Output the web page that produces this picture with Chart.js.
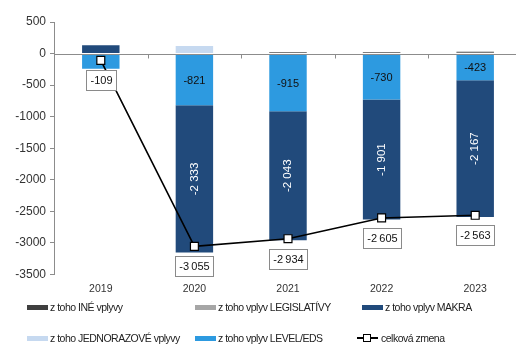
<!DOCTYPE html>
<html>
<head>
<meta charset="utf-8">
<script src="https://cdn.jsdelivr.net/npm/chart.js@4.4.1/dist/chart.umd.min.js"></script>
<style>
  html, body { margin: 0; padding: 0; background: #fff; }
  #wrap { position: relative; width: 516px; height: 345px; overflow: hidden; }
  #box { position: absolute; left: 0; top: 0; width: 530px; height: 306px; }
  #legend { position: absolute; left: 0; top: 0; width: 516px; height: 345px;
            font-family: Arial, "Liberation Sans", sans-serif; font-size: 10.5px;
            letter-spacing: -0.5px; color: #222; }
  .item { position: absolute; display: flex; align-items: center; height: 12px; white-space: nowrap; }
  .sw { width: 21px; height: 5px; margin-right: 2px; }
  .ln { position: relative; width: 21px; height: 12px; margin-right: 3px; }
  .ln::before { content: ""; position: absolute; left: 0; right: 0; top: 5px; height: 1.5px; background: #000; }
  .ln::after { content: ""; position: absolute; left: 6px; top: 2px; width: 6px; height: 6px;
               background: #fff; border: 1.2px solid #000; }
</style>
</head>
<body>
<div id="wrap">
  <div id="box"><canvas id="c"></canvas></div>
  <div id="legend"></div>
</div>
<script>
// Years on the category axis
const years = ['2019', '2020', '2021', '2022', '2023'];

// Components of the yearly change
const ineVplyvy      = [0, 0, 12, 13, 14];
const legislativy    = [0, 0, 12, 13, 13];
const makra          = [130, -2333, -2043, -1901, -2167];
const jednorazove    = [0, 120, 0, 0, 0];
const levelEds       = [-239, -821, -915, -730, -423];

// Total change (line)
const celkovaZmena   = [-109, -3055, -2934, -2605, -2563];

// Value axis range
const yMin = -3500, yMax = 500, yStep = 500;

const COLORS = {
  ine: '#3f3f3f',
  leg: '#a6a6a6',
  makra: '#214a7b',
  jedn: '#c6d9f0',
  level: '#2d9ae0'
};
const AXIS_GREY = '#8c8c8c';
const FONT = 'Arial, "Liberation Sans", sans-serif';

function fmt(v, sep) {
  const s = Math.abs(Math.round(v)).toString().replace(/\B(?=(\d{3})+(?!\d))/g, sep);
  return (v < 0 ? '-' : '') + s;
}

// Zero line across the plot with small ticks between the categories
const zeroAxis = {
  id: 'zeroAxis',
  afterDatasetsDraw(chart) {
    const { ctx, chartArea, scales } = chart;
    const y0 = Math.round(scales.y.getPixelForValue(0)) + 0.5;
    ctx.save();
    ctx.strokeStyle = AXIS_GREY;
    ctx.lineWidth = 1.2;
    ctx.beginPath();
    ctx.moveTo(chartArea.left, y0);
    ctx.lineTo(chartArea.right, y0);
    ctx.stroke();
    ctx.lineWidth = 1;
    const n = scales.x.ticks.length;
    for (let i = 0; i < n - 1; i++) {
      const xb = Math.round((scales.x.getPixelForTick(i) + scales.x.getPixelForTick(i + 1)) / 2) + 0.5;
      ctx.beginPath();
      ctx.moveTo(xb, y0);
      ctx.lineTo(xb, y0 + 4);
      ctx.stroke();
    }
    ctx.restore();
  }
};

// Value labels inside the bars and boxed labels under the line points
const valueLabels = {
  id: 'valueLabels',
  afterDatasetsDraw(chart) {
    const ctx = chart.ctx;
    chart.data.datasets.forEach((ds, di) => {
      const meta = chart.getDatasetMeta(di);
      if (!ds.labelMode) return;
      meta.data.forEach((el, i) => {
        const v = ds.data[i];
        ctx.save();
        if (ds.labelMode === 'inside' || ds.labelMode === 'rotated') {
          const h = Math.abs(el.base - el.y);
          if (h < 22) { ctx.restore(); return; }
          const cy = (el.y + el.base) / 2;
          ctx.textAlign = 'center';
          ctx.textBaseline = 'middle';
          if (ds.labelMode === 'inside') {
            ctx.font = '11px ' + FONT;
            ctx.fillStyle = '#111';
            ctx.fillText(fmt(v, '\u2009'), el.x, cy + 1);
          } else {
            ctx.font = '11.5px ' + FONT;
            ctx.fillStyle = '#fff';
            ctx.translate(el.x, cy);
            ctx.rotate(-Math.PI / 2);
            ctx.fillText(fmt(v, ' '), 0, 0);
          }
        } else if (ds.labelMode === 'box') {
          ctx.font = '11px ' + FONT;
          const t = fmt(v, '\u2009');
          const w = Math.round(ctx.measureText(t).width + 8);
          const h = 20;
          const x = Math.round(el.x - w / 2) + 0.5;
          const y = Math.round(el.y + 10) + 0.5;
          ctx.fillStyle = '#fff';
          ctx.fillRect(x, y, w, h);
          ctx.strokeStyle = '#8a8a8a';
          ctx.lineWidth = 1;
          ctx.strokeRect(x, y, w, h);
          ctx.fillStyle = '#111';
          ctx.textAlign = 'center';
          ctx.textBaseline = 'middle';
          ctx.fillText(t, x + w / 2, y + h / 2 + 0.5);
        }
        ctx.restore();
      });
    });
  }
};

const barCommon = { type: 'bar', stack: 'parts', order: 1, categoryPercentage: 1, barPercentage: 0.4, borderWidth: 0 };

const chart = new Chart(document.getElementById('c'), {
  data: {
    labels: years,
    datasets: [
      { ...barCommon, key: 'level', label: 'z toho vplyv LEVEL/EDS', data: levelEds, backgroundColor: COLORS.level, labelMode: 'inside' },
      { ...barCommon, key: 'makra', label: 'z toho vplyv MAKRA', data: makra, backgroundColor: COLORS.makra, labelMode: 'rotated' },
      { ...barCommon, key: 'jedn', label: 'z toho JEDNORAZOVÉ vplyvy', data: jednorazove, backgroundColor: COLORS.jedn },
      { ...barCommon, key: 'leg', label: 'z toho vplyv LEGISLATÍVY', data: legislativy, backgroundColor: COLORS.leg },
      { ...barCommon, key: 'ine', label: 'z toho INÉ vplyvy', data: ineVplyvy, backgroundColor: COLORS.ine },
      {
        type: 'line', key: 'total', label: 'celková zmena', data: celkovaZmena, stack: 'total', order: 0,
        borderColor: '#000', borderWidth: 1.6, tension: 0,
        pointStyle: 'rect', pointRadius: 5.6, pointBackgroundColor: '#fff',
        pointBorderColor: '#000', pointBorderWidth: 1.2, labelMode: 'box'
      }
    ]
  },
  options: {
    responsive: true,
    maintainAspectRatio: false,
    animation: false,
    layout: { padding: { top: 22, right: 8, left: 0, bottom: 3 } },
    plugins: { legend: { display: false }, tooltip: { enabled: false } },
    scales: {
      x: {
        stacked: true,
        grid: { display: false, drawTicks: false },
        border: { display: false },
        ticks: { color: '#333', font: { size: 10.5, family: FONT }, padding: 8 }
      },
      y: {
        stacked: true,
        min: yMin, max: yMax,
        ticks: {
          stepSize: yStep, color: '#333', padding: 4,
          font: { size: 12, family: FONT },
          callback: (v) => String(v)
        },
        grid: { drawOnChartArea: false, tickLength: 4, color: AXIS_GREY },
        border: { color: AXIS_GREY },
        afterFit(scale) { scale.width = 54; }
      }
    }
  },
  plugins: [zeroAxis, valueLabels]
});

// Legend built from the chart's datasets
const legendRows = [
  ['ine', 'leg', 'makra'],
  ['jedn', 'level', 'total']
];
const colX = [27, 195, 362];
const rowY = [301, 332];
const legendEl = document.getElementById('legend');
legendRows.forEach((row, r) => {
  row.forEach((key, c) => {
    const ds = chart.data.datasets.find(d => d.key === key);
    const item = document.createElement('div');
    item.className = 'item';
    item.style.left = (ds.type === 'line' ? colX[c] - 5 : colX[c]) + 'px';
    item.style.top = rowY[r] + 'px';
    const mark = document.createElement('span');
    if (ds.type === 'line') {
      mark.className = 'ln';
    } else {
      mark.className = 'sw';
      mark.style.background = ds.backgroundColor;
    }
    item.appendChild(mark);
    item.appendChild(document.createTextNode(ds.label));
    legendEl.appendChild(item);
  });
});
</script>
</body>
</html>
